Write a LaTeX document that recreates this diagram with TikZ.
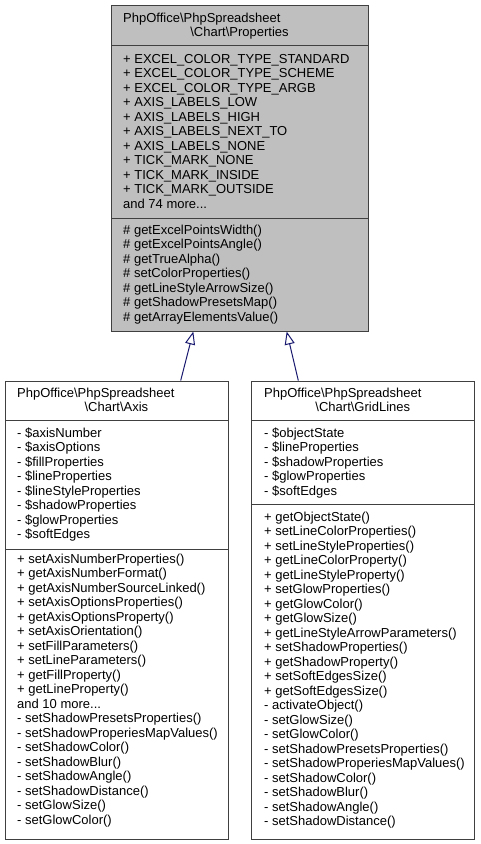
\documentclass[tikz,border=0pt]{standalone}
\usepackage{fontspec}
\setmainfont{Liberation Sans}
\usetikzlibrary{arrows.meta}
\definecolor{boxgray}{HTML}{BFBFBF}
\definecolor{edgeblue}{HTML}{191970}
\definecolor{linegray}{HTML}{404040}
\newcommand{\threedots}{.{}.{}.}
\begin{document}
\begin{tikzpicture}[x=1pt,y=-1pt,
  font=\fontsize{13}{14.5}\selectfont,
  classbox/.style={draw=linegray, line width=1pt, inner sep=0pt, anchor=north west},
  sepline/.style={draw=linegray, line width=1pt},
  txt/.style={inner sep=0pt, anchor=base west},
  ttl/.style={inner sep=0pt, anchor=base},
  inherit/.style={draw=edgeblue, line width=1pt, -{Triangle[open,length=13pt,width=10pt]}}]
\useasboundingbox (0,0) rectangle (480,844);
\fill[white] (0,0) rectangle (480,844);

% ---------- Properties ----------
\node[classbox, fill=boxgray, minimum width=257pt, minimum height=326pt] (props) at (111,5) {};
\draw[sepline] (111,45) -- (368,45);
\draw[sepline] (111,218) -- (368,218);
\node[txt] (pt1) at (123,22) {PhpOffice\textbackslash PhpSpreadsheet};
\node[ttl] (pt2) at (239.5,36.5) {\textbackslash Chart\textbackslash Properties};
\foreach \t [count=\i] in {+ EXCEL\_COLOR\_TYPE\_STANDARD, + EXCEL\_COLOR\_TYPE\_SCHEME, + EXCEL\_COLOR\_TYPE\_ARGB, + AXIS\_LABELS\_LOW, + AXIS\_LABELS\_HIGH, + AXIS\_LABELS\_NEXT\_TO, + AXIS\_LABELS\_NONE, + TICK\_MARK\_NONE, + TICK\_MARK\_INSIDE, + TICK\_MARK\_OUTSIDE, and 74 more\threedots}
  \node[txt] (pa\i) at (123,{63+14.5*(\i-1)}) {\t};
\foreach \t [count=\i] in {\# getExcelPointsWidth(), \# getExcelPointsAngle(), \# getTrueAlpha(), \# setColorProperties(), \# getLineStyleArrowSize(), \# getShadowPresetsMap(), \# getArrayElementsValue()}
  \node[txt] (pm\i) at (123,{234+14.5*(\i-1)}) {\t};

% ---------- Axis ----------
\node[classbox, fill=white, minimum width=222.7pt, minimum height=458pt] (axis) at (5,380.5) {};
\draw[sepline] (5,420) -- (227.7,420);
\draw[sepline] (5,549) -- (227.7,549);
\node[txt] (at1) at (17,397) {PhpOffice\textbackslash PhpSpreadsheet};
\node[ttl] (at2) at (116.4,411.5) {\textbackslash Chart\textbackslash Axis};
\foreach \t [count=\i] in {- \$axisNumber, - \$axisOptions, - \$fillProperties, - \$lineProperties, - \$lineStyleProperties, - \$shadowProperties, - \$glowProperties, - \$softEdges}
  \node[txt] (aa\i) at (17,{437+14.5*(\i-1)}) {\t};
\foreach \t [count=\i] in {+ setAxisNumberProperties(), + getAxisNumberFormat(), + getAxisNumberSourceLinked(), + setAxisOptionsProperties(), + getAxisOptionsProperty(), + setAxisOrientation(), + setFillParameters(), + setLineParameters(), + getFillProperty(), + getLineProperty(), and 10 more\threedots, - setShadowPresetsProperties(), - setShadowProperiesMapValues(), - setShadowColor(), - setShadowBlur(), - setShadowAngle(), - setShadowDistance(), - setGlowSize(), - setGlowColor()}
  \node[txt] (am\i) at (17,{563+14.5*(\i-1)}) {\t};

% ---------- GridLines ----------
\node[classbox, fill=white, minimum width=223pt, minimum height=458pt] (grid) at (251.3,380.5) {};
\draw[sepline] (251.3,420) -- (474.3,420);
\draw[sepline] (251.3,504) -- (474.3,504);
\node[txt] (gt1) at (264,397) {PhpOffice\textbackslash PhpSpreadsheet};
\node[ttl] (gt2) at (362.8,411.5) {\textbackslash Chart\textbackslash GridLines};
\foreach \t [count=\i] in {- \$objectState, - \$lineProperties, - \$shadowProperties, - \$glowProperties, - \$softEdges}
  \node[txt] (ga\i) at (264,{437+14.5*(\i-1)}) {\t};
\foreach \t [count=\i] in {+ getObjectState(), + setLineColorProperties(), + setLineStyleProperties(), + getLineColorProperty(), + getLineStyleProperty(), + setGlowProperties(), + getGlowColor(), + getGlowSize(), + getLineStyleArrowParameters(), + setShadowProperties(), + getShadowProperty(), + setSoftEdgesSize(), + getSoftEdgesSize(), - activateObject(), - setGlowSize(), - setGlowColor(), - setShadowPresetsProperties(), - setShadowProperiesMapValues(), - setShadowColor(), - setShadowBlur(), - setShadowAngle(), - setShadowDistance()}
  \node[txt] (gm\i) at (264,{521+14.5*(\i-1)}) {\t};

% ---------- inheritance ----------
\coordinate (e1s) at (180.7,380.5);
\coordinate (e1t) at (193.3,331.5);
\coordinate (e2s) at (298.3,380.5);
\coordinate (e2t) at (286.7,331.5);
\draw[inherit] (e1s) -- (e1t);
\draw[inherit] (e2s) -- (e2t);
\end{tikzpicture}
\end{document}
